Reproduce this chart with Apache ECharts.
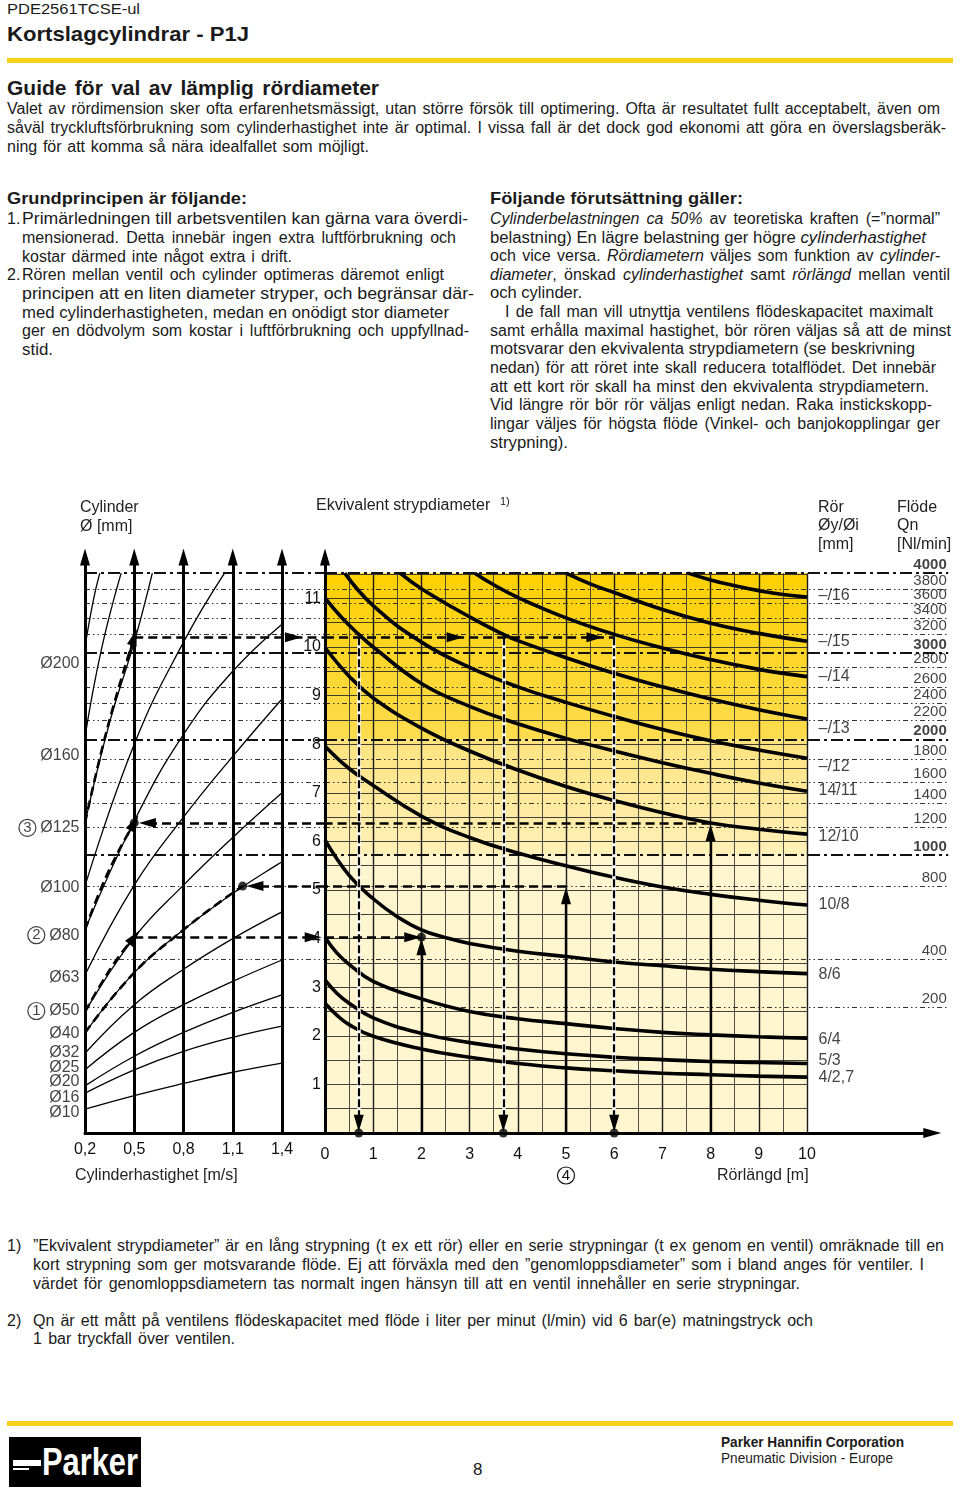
<!DOCTYPE html>
<html><head><meta charset="utf-8"><title>Guide för val av lämplig rördiameter</title>
<script src="https://cdn.jsdelivr.net/npm/echarts/dist/echarts.min.js"></script>
<style>
html,body{margin:0;padding:0;background:#fff;}
body{width:960px;height:1489px;position:relative;overflow:hidden;font-family:'Liberation Sans',Arial,sans-serif;color:#1a1a1a;}
.ln{position:absolute;white-space:nowrap;font-size:16px;line-height:19px;transform-origin:0 50%;}
.b{font-weight:bold;}
.bar{position:absolute;left:7px;width:946px;height:5px;background:#f7d117;}
#chart{position:absolute;left:0;top:490px;width:960px;height:720px;}
</style></head><body>
<div class="ln" style="left:7px;top:-1px;font-size:15px;" data-w="133">PDE2561TCSE-ul</div>
<div class="ln b" style="left:7px;top:22px;font-size:21px;line-height:24px;" data-w="242">Kortslagcylindrar - P1J</div>
<div class="bar" style="top:58px;"></div>
<div class="ln b" style="left:7px;top:76px;font-size:21px;line-height:24px;" data-w="372">Guide för val av lämplig rördiameter</div>
<div class="ln" style="left:7px;top:98.5px;" data-w="933">Valet av rördimension sker ofta erfarenhetsmässigt, utan större försök till optimering. Ofta är resultatet fullt acceptabelt, även om</div>
<div class="ln" style="left:7px;top:117.5px;" data-w="939">såväl tryckluftsförbrukning som cylinderhastighet inte är optimal. I vissa fall är det dock god ekonomi att göra en överslagsberäk-</div>
<div class="ln" style="left:7px;top:136.5px;" data-w="362">ning för att komma så nära idealfallet som möjligt.</div>

<div class="ln b" style="left:7px;top:189px;font-size:17px;line-height:20px;" data-w="240">Grundprincipen är följande:</div>
<div class="ln" style="left:7px;top:208.5px;">1.</div>
<div class="ln" style="left:22px;top:208.5px;" data-w="446">Primärledningen till arbetsventilen kan gärna vara överdi-</div>
<div class="ln" style="left:22px;top:227.5px;" data-w="434">mensionerad. Detta innebär ingen extra luftförbrukning och</div>
<div class="ln" style="left:22px;top:246.5px;" data-w="270">kostar därmed inte något extra i drift.</div>
<div class="ln" style="left:7px;top:264.5px;">2.</div>
<div class="ln" style="left:22px;top:264.5px;" data-w="422">Rören mellan ventil och cylinder optimeras däremot enligt</div>
<div class="ln" style="left:22px;top:283.5px;" data-w="452">principen att en liten diameter stryper, och begränsar där-</div>
<div class="ln" style="left:22px;top:302.5px;" data-w="427">med cylinderhastigheten, medan en onödigt stor diameter</div>
<div class="ln" style="left:22px;top:320.5px;" data-w="447">ger en dödvolym som kostar i luftförbrukning och uppfyllnad-</div>
<div class="ln" style="left:22px;top:339.5px;" data-w="31">stid.</div>

<div class="ln b" style="left:490px;top:189px;font-size:17px;line-height:20px;" data-w="253">Följande förutsättning gäller:</div>
<div class="ln" style="left:490px;top:208.5px;" data-w="450"><i>Cylinderbelastningen ca 50%</i> av teoretiska kraften (=”normal”</div>
<div class="ln" style="left:490px;top:227.5px;" data-w="436">belastning) En lägre belastning ger högre <i>cylinderhastighet</i></div>
<div class="ln" style="left:490px;top:245.5px;" data-w="450">och vice versa. <i>Rördiametern</i> väljes som funktion av <i>cylinder-</i></div>
<div class="ln" style="left:490px;top:264.5px;" data-w="460"><i>diameter</i>, önskad <i>cylinderhastighet</i> samt <i>rörlängd</i> mellan ventil</div>
<div class="ln" style="left:490px;top:282.5px;" data-w="92">och cylinder.</div>
<div class="ln" style="left:505px;top:301.5px;" data-w="428">I de fall man vill utnyttja ventilens flödeskapacitet maximalt</div>
<div class="ln" style="left:490px;top:320.5px;" data-w="461">samt erhålla maximal hastighet, bör rören väljas så att de minst</div>
<div class="ln" style="left:490px;top:338.5px;" data-w="425">motsvarar den ekvivalenta strypdiametern (se beskrivning</div>
<div class="ln" style="left:490px;top:357.5px;" data-w="446">nedan) för att röret inte skall reducera totalflödet. Det innebär</div>
<div class="ln" style="left:490px;top:376.5px;" data-w="439">att ett kort rör skall ha minst den ekvivalenta strypdiametern.</div>
<div class="ln" style="left:490px;top:394.5px;" data-w="442">Vid längre rör bör rör väljas enligt nedan. Raka instickskopp-</div>
<div class="ln" style="left:490px;top:413.5px;" data-w="450">lingar väljes för högsta flöde (Vinkel- och banjokopplingar ger</div>
<div class="ln" style="left:490px;top:432.5px;" data-w="78">strypning).</div>

<div id="chart"></div>

<div class="ln" style="left:7px;top:1235.5px;">1)</div>
<div class="ln" style="left:33px;top:1235.5px;" data-w="911">”Ekvivalent strypdiameter” är en lång strypning (t ex ett rör) eller en serie strypningar (t ex genom en ventil) omräknade till en</div>
<div class="ln" style="left:33px;top:1254.5px;" data-w="891">kort strypning som ger motsvarande flöde. Ej att förväxla med den ”genomloppsdiameter” som i bland anges för ventiler. I</div>
<div class="ln" style="left:33px;top:1273.5px;" data-w="767">värdet för genomloppsdiametern tas normalt ingen hänsyn till att en ventil innehåller en serie strypningar.</div>
<div class="ln" style="left:7px;top:1310.5px;">2)</div>
<div class="ln" style="left:33px;top:1310.5px;" data-w="780">Qn är ett mått på ventilens flödeskapacitet med flöde i liter per minut (l/min) vid 6 bar(e) matningstryck och</div>
<div class="ln" style="left:33px;top:1328.5px;" data-w="202">1 bar tryckfall över ventilen.</div>

<div class="bar" style="top:1421px;"></div>
<div style="position:absolute;left:9px;top:1437px;width:132px;height:50px;background:#000;overflow:hidden;">
  <div style="position:absolute;left:4px;top:23px;width:28px;height:6px;background:#fff;"></div>
  <div style="position:absolute;left:4px;top:31px;width:16px;height:2px;background:#fff;"></div>
  <div class="ln" style="left:33px;top:5px;font-size:38px;line-height:40px;color:#fff;font-weight:bold;" data-w="96">Parker</div>
</div>
<div class="ln" style="left:473px;top:1460px;font-size:17px;line-height:20px;">8</div>
<div class="ln b" style="left:721px;top:1434px;font-size:14px;line-height:16px;" data-w="183">Parker Hannifin Corporation</div>
<div class="ln" style="left:721px;top:1450px;font-size:14px;line-height:16px;" data-w="172">Pneumatic Division - Europe</div>

<script>
// ---------------- DATA ----------------
const speedTicks = [0.2, 0.5, 0.8, 1.1, 1.4];
const lengthTicks = [0, 1, 2, 3, 4, 5, 6, 7, 8, 9, 10];
const eqDiamTicks = [1, 2, 3, 4, 5, 6, 7, 8, 9, 10, 11];

// Flöde Qn [Nl/min] and the equivalent diameter (mm) at which each line sits
const flodeValues = [4000, 3800, 3600, 3400, 3200, 3000, 2800, 2600, 2400, 2200, 2000, 1800, 1600, 1400, 1200, 1000, 800, 400, 200];
const flodeD      = [11.52, 11.19, 10.9, 10.6, 10.27, 9.88, 9.59, 9.18, 8.85, 8.5, 8.1, 7.7, 7.22, 6.79, 6.3, 5.72, 5.08, 3.58, 2.59];
const flodeBold   = [4000, 3000, 2000, 1000];

// Cylinder diameters: label positions (equivalent diameter scale)
const cylinderNames  = ['Ø200', 'Ø160', 'Ø125', 'Ø100', 'Ø80', 'Ø63', 'Ø50', 'Ø40', 'Ø32', 'Ø25', 'Ø20', 'Ø16', 'Ø10'];
const cylinderLabelD = [9.65, 7.76, 6.28, 5.04, 4.07, 3.19, 2.51, 2.04, 1.65, 1.34, 1.05, 0.72, 0.41];
const cylinderMarks  = { 'Ø125': 3, 'Ø80': 2, 'Ø50': 1 };

// Cylinder curves: [speed m/s, equivalent diameter mm]
const cyl10  = [[0.2, 0.49], [0.5, 0.77], [0.8, 1.02], [1.1, 1.25], [1.4, 1.44]];
const cyl16  = [[0.2, 0.82], [0.5, 1.3], [0.8, 1.68], [1.1, 1.97], [1.4, 2.2]];
const cyl20  = [[0.2, 0.97], [0.5, 1.58], [0.8, 2.07], [1.1, 2.48], [1.4, 2.84]];
const cyl25  = [[0.2, 1.3], [0.5, 2.07], [0.8, 2.64], [1.1, 3.12], [1.4, 3.56]];
const cyl32  = [[0.2, 1.64], [0.5, 2.64], [0.8, 3.37], [1.1, 4.0], [1.4, 4.55]];
const cyl40  = [[0.2, 2.06], [0.5, 3.3], [0.8, 4.18], [1.1, 4.93], [1.4, 5.58]];
const cyl50  = [[0.2, 2.49], [0.5, 4.02], [0.8, 5.1], [1.1, 6.08], [1.4, 7.0]];
const cyl63  = [[0.2, 3.25], [0.5, 5.1], [0.8, 6.5], [1.1, 7.75], [1.4, 8.93]];
const cyl80  = [[0.2, 4.18], [0.5, 6.42], [0.8, 8.2], [1.1, 9.5], [1.4, 10.47]];
const cyl100 = [[0.2, 5.08], [0.5, 8.0], [0.8, 10.1], [1.05, 11.52]];
const cyl125 = [[0.2, 6.38], [0.35, 8.45], [0.5, 10.1], [0.61, 11.52]];
const cyl160 = [[0.2, 8.15], [0.3, 9.95], [0.42, 11.52]];
const cyl200 = [[0.2, 10.0], [0.25, 10.95], [0.29, 11.52]];

// Pipe curves: [pipe length m, equivalent diameter mm]
const pipeNames  = ['–/16', '–/15', '–/14', '–/13', '–/12', '14/11', '12/10', '10/8', '8/6', '6/4', '5/3', '4/2,7'];
const pipeLabelD = [11.05, 10.12, 9.4, 8.33, 7.53, 7.04, 6.09, 4.69, 3.25, 1.93, 1.5, 1.13];
const pipe16 = [[7.53, 11.52], [8, 11.38], [8.5, 11.26], [9, 11.16], [9.5, 11.08], [10, 11.03]];
const pipe15 = [[5.0, 11.52], [5.5, 11.3], [6, 11.12], [7, 10.77], [8, 10.49], [9, 10.28], [10, 10.12]];
const pipe14 = [[3.11, 11.52], [3.5, 11.28], [4, 11.02], [5, 10.6], [6, 10.26], [7, 9.98], [8, 9.74], [9, 9.54], [10, 9.39]];
const pipe13 = [[1.56, 11.52], [2, 11.2], [3, 10.62], [3.7, 10.26], [4, 10.13], [5, 9.78], [6, 9.46], [7, 9.18], [8, 8.93], [9, 8.71], [10, 8.52]];
const pipe12 = [[0.41, 11.52], [1, 10.85], [2, 10.1], [3, 9.58], [4, 9.18], [5, 8.86], [6, 8.57], [7, 8.3], [8, 8.07], [9, 7.88], [10, 7.71]];
const pipe11 = [[0, 11.01], [0.35, 10.6], [0.7, 10.26], [1, 10.0], [2, 9.25], [3, 8.78], [4, 8.42], [5, 8.12], [6, 7.86], [7, 7.62], [8, 7.4], [9, 7.2], [10, 7.03]];
const pipe10 = [[0, 9.99], [0.5, 9.4], [1, 8.95], [2, 8.33], [3, 7.86], [4, 7.47], [5, 7.13], [6, 6.84], [7, 6.59], [8, 6.38], [9, 6.25], [10, 6.15]];
const pipe8  = [[0, 7.96], [0.5, 7.5], [1, 7.15], [2, 6.52], [3, 6.08], [4, 5.76], [5, 5.5], [6, 5.26], [7, 5.06], [8, 4.91], [9, 4.79], [10, 4.69]];
const pipe6  = [[0, 6.03], [0.5, 5.3], [1, 4.82], [1.5, 4.45], [2, 4.18], [2.5, 4.02], [3, 3.9], [4, 3.74], [5, 3.63], [6, 3.52], [7, 3.44], [8, 3.37], [9, 3.32], [10, 3.28]];
const pipe4  = [[0, 4.03], [0.25, 3.7], [0.5, 3.47], [1, 3.12], [2, 2.76], [3, 2.5], [4, 2.35], [5, 2.25], [6, 2.15], [7, 2.07], [8, 2.02], [9, 1.98], [10, 1.95]];
const pipe3  = [[0, 3.15], [0.25, 2.87], [0.5, 2.67], [1, 2.37], [2, 2.05], [3, 1.86], [4, 1.73], [5, 1.63], [6, 1.56], [7, 1.51], [8, 1.47], [9, 1.45], [10, 1.43]];
const pipe27 = [[0, 2.67], [0.25, 2.42], [0.5, 2.23], [1, 1.99], [2, 1.73], [3, 1.56], [4, 1.43], [5, 1.34], [6, 1.28], [7, 1.23], [8, 1.2], [9, 1.17], [10, 1.15]];

// Worked examples (1)–(4)
const ex1Cyl = [[0.2, 2.49], [0.3, 3.08], [0.4, 3.6], [0.5, 4.03]];
const ex1D = 4.03, ex1Length = 2, ex1ArrowLeft = 1.59, ex1ArrowRight = 1.82;
const ex2Cyl = [[0.2, 4.18], [0.3, 5.05], [0.4, 5.77], [0.5, 6.38]];
const ex2D = 6.38, ex2Length = 8, ex2ArrowLeft = 0.58;
const ex3Cyl = [[0.2, 6.38], [0.3, 7.85], [0.4, 9.1], [0.5, 10.2]];
const ex3D = 10.2, ex3Lengths = [0.7, 3.7, 6.0], ex3ArrowLeft = 1.47, ex3ArrowsRight = [2.7, 5.6];
const ex4Cyl = [[0.2, 2.06], [0.5, 3.3], [0.8, 4.18], [1.0, 4.7], [1.16, 5.08]];
const ex4D = 5.08, ex4Length = 5, ex4ArrowLeft = 1.235;

// ---------------- LAYOUT ----------------
const PX_D = 48.6, BASE = 643, Y_MAX = 12.1;
const GH = Y_MAX * PX_D, GT = BASE - GH;
const LEFT_MAX = 1.662, RIGHT_MAX = 12.6, RIGHT_END = 12.93, ARROW_TOP = 11.85;
const TOP_D = flodeD[0];
const FONT = "'Liberation Sans', Arial, sans-serif";
const G0 = { xAxisIndex: 0, yAxisIndex: 0 };
const G1 = { xAxisIndex: 1, yAxisIndex: 1 };
const ARROW = [1, [10, 17]];

function lines(grid, segs, extra) {
  return Object.assign({
    type: 'lines', coordinateSystem: 'cartesian2d', polyline: false, silent: true, clip: false,
    symbol: 'none', z: 2,
    lineStyle: { color: '#111', width: 1, opacity: 1, curveness: 0 },
    data: segs.map(s => ({ coords: s.c, lineStyle: s.ls }))
  }, grid, extra);
}
function curve(grid, data, width, extra) {
  return Object.assign({
    type: 'line', data: data, smooth: 0.45, symbol: 'none', silent: true, clip: false,
    lineStyle: { color: '#000', width: width }, z: 3
  }, grid, extra);
}
function tailSeg(arr) {
  const a = arr[arr.length - 2], b = arr[arr.length - 1];
  const t = 0.55;
  return [[a[0] + (b[0] - a[0]) * t, a[1] + (b[1] - a[1]) * t], b];
}

const series = [];

// yellow background bands
const d2000 = flodeD[flodeValues.indexOf(2000)], d1000 = flodeD[flodeValues.indexOf(1000)];
const grad = (c1, c2) => new echarts.graphic.LinearGradient(0, 0, 0, 1, [{ offset: 0, color: c1 }, { offset: 1, color: c2 }]);
series.push(Object.assign({
  type: 'line', data: [], silent: true, z: 0,
  markArea: {
    silent: true, z: 0,
    data: [
      [{ coord: [0, d2000], itemStyle: { color: grad('#fcd000', '#fddc50') } }, { coord: [10, TOP_D] }],
      [{ coord: [0, d1000], itemStyle: { color: grad('#fde37e', '#fff0b8') } }, { coord: [10, d2000] }],
      [{ coord: [0, 0], itemStyle: { color: '#fff5cf' } }, { coord: [10, d1000] }]
    ]
  }
}, G1));

// yellow grid 0.5 x 0.5
const gridSegs = [];
for (let i = 1; i <= 20; i++) {
  const x = i * 0.5, major = i % 2 === 0;
  gridSegs.push({ c: [[x, 0], [x, TOP_D]], ls: { color: major ? '#1a1a1a' : '#3a3a3a', width: major ? 1.4 : 0.9, opacity: 1 } });
}
for (let j = 1; j <= 23; j++) {
  const d = j * 0.5;
  gridSegs.push({ c: [[0, d], [10, d]], ls: { color: '#2a2a2a', width: 0.9, opacity: 1 } });
}
series.push(lines(G1, gridSegs, { z: 1 }));

// Flöde lines across the whole chart
const fl0 = [], fl1 = [];
flodeValues.forEach((q, i) => {
  const bold = flodeBold.includes(q);
  const ls = bold ? { color: '#111', width: 2, type: [12, 4, 3, 4], opacity: 1 }
                  : { color: '#333', width: 1, type: [5, 3, 1.5, 3, 1.5, 3], opacity: 1 };
  fl0.push({ c: [[speedTicks[0], flodeD[i]], [LEFT_MAX, flodeD[i]]], ls });
  fl1.push({ c: [[0, flodeD[i]], [RIGHT_END, flodeD[i]]], ls });
});
series.push(lines(G0, fl0, { z: 2 }));
series.push(lines(G1, fl1, { z: 2 }));

// vertical axes with arrowheads
series.push(lines(G0, speedTicks.map(v => ({ c: [[v, 0], [v, ARROW_TOP]] })),
  { z: 6, symbol: ['none', 'triangle'], symbolSize: ARROW, lineStyle: { color: '#000', width: 3, opacity: 1 } }));
series.push(lines(G1, [{ c: [[0, 0], [0, ARROW_TOP]] }],
  { z: 6, symbol: ['none', 'triangle'], symbolSize: ARROW, lineStyle: { color: '#000', width: 3, opacity: 1 } }));

// cylinder curves
[cyl10, cyl16, cyl20, cyl25, cyl32, cyl40, cyl50, cyl63, cyl80, cyl100, cyl125, cyl160, cyl200]
  .forEach(c => series.push(curve(G0, c, 1.3)));
// pipe curves
[pipe16, pipe15, pipe14, pipe13, pipe12, pipe11, pipe10, pipe8, pipe6, pipe4, pipe3, pipe27]
  .forEach(c => series.push(curve(G1, c, 3.6)));

// examples: dashed cylinder curves
const DASH = { color: '#000', width: 2.6, type: [9, 5], opacity: 1 };
[ex1Cyl, ex2Cyl, ex3Cyl, ex4Cyl].forEach(c => series.push(curve(G0, c, 2.6, { z: 4, lineStyle: DASH })));
series.push(lines(G0, [ex1Cyl, ex2Cyl, ex3Cyl].map(c => ({ c: tailSeg(c) })),
  { z: 5, symbol: ['none', 'triangle'], symbolSize: ARROW, lineStyle: { color: '#000', width: 2, opacity: 1 } }));

// examples: horizontal dashed lines with arrows
series.push(lines(G0, [
  { c: [[ex1Cyl[3][0], ex1D], [ex1ArrowLeft, ex1D]] },
  { c: [[LEFT_MAX, ex2D], [ex2ArrowLeft, ex2D]] },
  { c: [[ex3Cyl[3][0], ex3D], [ex3ArrowLeft, ex3D]] },
  { c: [[LEFT_MAX, ex4D], [ex4ArrowLeft, ex4D]] }
], { z: 5, symbol: ['none', 'triangle'], symbolSize: ARROW, lineStyle: DASH }));
series.push(lines(G0, [{ c: [[ex3ArrowLeft, ex3D], [LEFT_MAX, ex3D]] }], { z: 5, lineStyle: DASH }));
series.push(lines(G1, [
  { c: [[0, ex1D], [ex1ArrowRight, ex1D]] },
  { c: [[0, ex3D], [ex3ArrowsRight[0], ex3D]] },
  { c: [[ex3ArrowsRight[0], ex3D], [ex3ArrowsRight[1], ex3D]] }
], { z: 5, symbol: ['none', 'triangle'], symbolSize: ARROW, lineStyle: DASH }));
series.push(lines(G1, [
  { c: [[ex3ArrowsRight[1], ex3D], [ex3Lengths[2], ex3D]] },
  { c: [[ex2Length, ex2D], [0, ex2D]] },
  { c: [[ex4Length, ex4D], [0, ex4D]] }
], { z: 5, lineStyle: DASH }));
// ex3 verticals down (white under black dashes)
series.push(lines(G1, ex3Lengths.map(L => ({ c: [[L, ex3D], [L, 0]] })),
  { z: 4, lineStyle: { color: '#fff', width: 3.5, opacity: 1 } }));
series.push(lines(G1, ex3Lengths.map(L => ({ c: [[L, ex3D], [L, 0.2]] })),
  { z: 5, symbol: ['none', 'triangle'], symbolSize: ARROW, lineStyle: { color: '#000', width: 2.2, type: [8, 3], opacity: 1 } }));
// pipe length verticals up
series.push(lines(G1, [
  { c: [[ex1Length, 0], [ex1Length, ex1D - 0.2]] },
  { c: [[ex4Length, 0], [ex4Length, ex4D - 0.2]] },
  { c: [[ex2Length, 0], [ex2Length, ex2D - 0.2]] }
], { z: 5, symbol: ['none', 'triangle'], symbolSize: ARROW, lineStyle: { color: '#000', width: 2.4, opacity: 1 } }));

// dots
series.push(Object.assign({ type: 'scatter', symbolSize: 9, silent: true, z: 7, clip: false, itemStyle: { color: '#000' },
  data: [[ex1Length, ex1D]].concat(ex3Lengths.map(L => [L, 0])) }, G1));
series.push(Object.assign({ type: 'scatter', symbolSize: 9, silent: true, z: 7, clip: false, itemStyle: { color: '#000' },
  data: [[ex2Cyl[3][0], ex2D], [ex4Cyl[4][0], ex4D]] }, G0));

// labels: cylinders
const RICH_C = { c: { fontSize: 15, width: 17, height: 17, lineHeight: 17, align: 'center', borderColor: '#111', borderWidth: 1.2, borderRadius: 9, color: '#111' } };
series.push(Object.assign({
  type: 'scatter', symbolSize: 1, silent: true, clip: false, z: 8, itemStyle: { color: 'rgba(0,0,0,0)' },
  data: cylinderNames.map((n, i) => ({ name: n, value: [speedTicks[0], cylinderLabelD[i]] })),
  label: { show: true, position: 'left', distance: 5, fontSize: 16, color: '#111', fontFamily: FONT,
    formatter: p => cylinderMarks[p.name] ? '{c|' + cylinderMarks[p.name] + '} ' + p.name : p.name, rich: RICH_C }
}, G0));
// labels: pipes
series.push(Object.assign({
  type: 'scatter', symbolSize: 1, silent: true, clip: false, z: 8, itemStyle: { color: 'rgba(0,0,0,0)' },
  data: pipeNames.map((n, i) => ({ name: n, value: [10, pipeLabelD[i]] })),
  label: { show: true, position: 'right', distance: 11, fontSize: 16, color: '#111', fontFamily: FONT, formatter: p => p.name }
}, G1));
// labels: Flöde
series.push(Object.assign({
  type: 'scatter', symbolSize: 1, silent: true, clip: false, z: 8, itemStyle: { color: 'rgba(0,0,0,0)' },
  data: flodeValues.map((q, i) => ({ name: String(q), value: [RIGHT_END, flodeD[i]],
    label: { fontWeight: flodeBold.includes(q) ? 'bold' : 'normal' } })),
  label: { show: true, position: 'left', distance: 1, offset: [0, -8], fontSize: 15, color: '#111', fontFamily: FONT, formatter: p => p.name }
}, G1));

const fmtComma = v => v.toFixed(1).replace('.', ',');
const option = {
  animation: false,
  textStyle: { fontFamily: FONT },
  grid: [
    { left: 85, width: (LEFT_MAX - speedTicks[0]) * 164.17, top: GT, height: GH, outerBoundsMode: 'none' },
    { left: 325, width: RIGHT_MAX * 48.2, top: GT, height: GH, outerBoundsMode: 'none' }
  ],
  xAxis: [
    { gridIndex: 0, type: 'value', min: speedTicks[0], max: LEFT_MAX, interval: 0.3, z: 10,
      axisLine: { lineStyle: { color: '#000', width: 3 } }, axisTick: { show: false }, splitLine: { show: false },
      axisLabel: { fontSize: 16, color: '#111', margin: 9, showMaxLabel: false,
        formatter: v => speedTicks.some(s => Math.abs(s - v) < 1e-6) ? fmtComma(v) : '' } },
    { gridIndex: 1, type: 'value', min: 0, max: RIGHT_MAX, interval: 1, z: 10,
      axisLine: { symbol: ['none', 'triangle'], symbolSize: [10, 18], lineStyle: { color: '#000', width: 3 } },
      axisTick: { show: false }, splitLine: { show: false },
      axisLabel: { fontSize: 16, color: '#111', margin: 9, showMaxLabel: false, lineHeight: 25,
        formatter: v => v === 5 ? '5\n{c|4}' : (lengthTicks.includes(v) ? String(v) : ''), rich: RICH_C } }
  ],
  yAxis: [
    { gridIndex: 0, type: 'value', min: 0, max: Y_MAX, show: false },
    { gridIndex: 1, type: 'value', min: 0, max: Y_MAX, interval: 1, z: 10,
      axisLine: { show: false }, axisTick: { show: false }, splitLine: { show: false },
      axisLabel: { fontSize: 16, color: '#111', margin: 4, showMaxLabel: false,
        formatter: v => eqDiamTicks.includes(v) ? String(v) : '' } }
  ],
  graphic: [
    { type: 'text', left: 80, top: 8, style: { text: 'Cylinder\nØ [mm]', font: '16px ' + FONT, lineHeight: 19, fill: '#222' } },
    { type: 'text', left: 316, top: 8, style: { text: 'Ekvivalent strypdiameter', font: '16px ' + FONT, fill: '#222' } },
    { type: 'text', left: 500, top: 6, style: { text: '1)', font: '11px ' + FONT, fill: '#222' } },
    { type: 'text', left: 818, top: 8, style: { text: 'Rör\nØy/Øi\n[mm]', font: '16px ' + FONT, lineHeight: 18.5, fill: '#222' } },
    { type: 'text', left: 897, top: 8, style: { text: 'Flöde\nQn\n[Nl/min]', font: '16px ' + FONT, lineHeight: 18.5, fill: '#222' } },
    { type: 'text', left: 75, top: 678, style: { text: 'Cylinderhastighet [m/s]', font: '16px ' + FONT, fill: '#222' } },
    { type: 'text', left: 717, top: 678, style: { text: 'Rörlängd [m]', font: '16px ' + FONT, fill: '#222' } }
  ],
  series: series
};

const chart = echarts.init(document.getElementById('chart'), null, { renderer: 'canvas' });
chart.setOption(option);

// fit text lines to the measured widths of the reference
document.querySelectorAll('.ln[data-w]').forEach(el => {
  const w = +el.dataset.w;
  const nat = el.getBoundingClientRect().width;
  const spaces = (el.textContent.match(/ /g) || []).length;
  if (nat > w) {
    el.style.transform = 'scaleX(' + (w / nat) + ')';
  } else if (spaces && (w - nat) / spaces <= 3) {
    el.style.wordSpacing = ((w - nat) / spaces) + 'px';
  } else {
    el.style.transform = 'scaleX(' + (w / nat) + ')';
  }
});
</script>
</body></html>
